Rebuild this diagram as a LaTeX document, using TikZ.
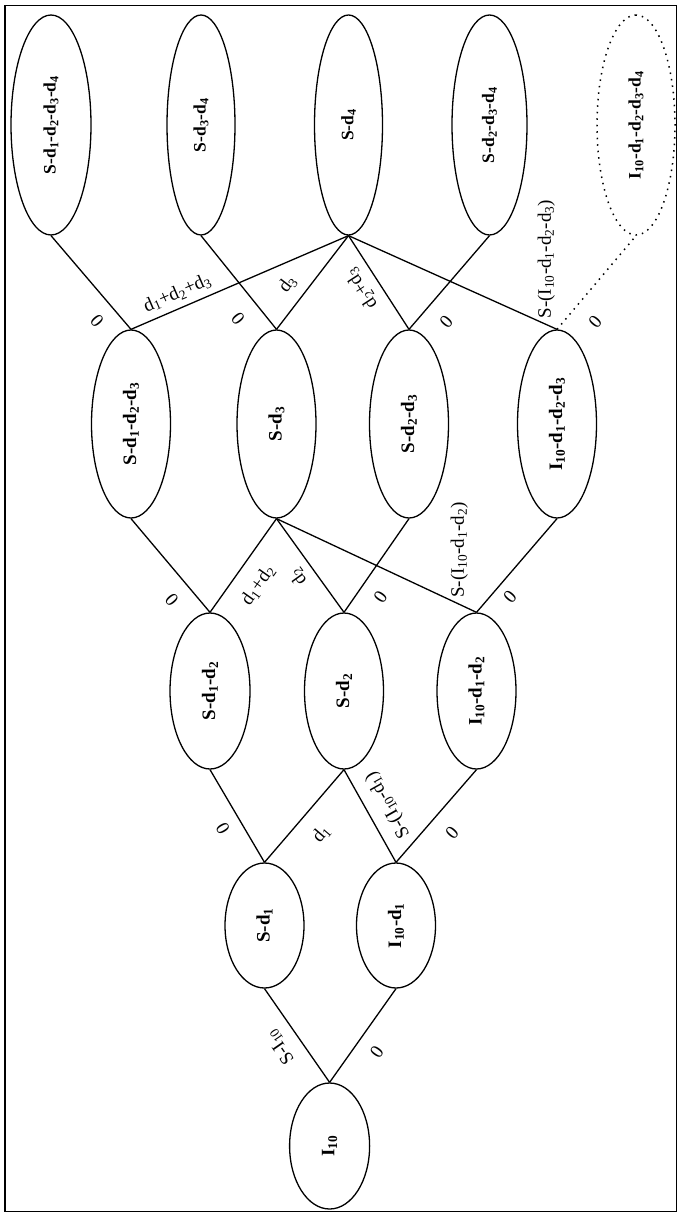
\documentclass[tikz,border=0pt]{standalone}
\usepackage{fontspec}
\setmainfont{Liberation Serif}
\usetikzlibrary{shapes.geometric}
\newcommand{\sbs}[1]{\textsubscript{#1}}

\begin{document}
\begin{tikzpicture}[x=1pt, y=-1pt,
  every node/.style = {font=\fontsize{19}{23}\selectfont},
  nd/.style         = {ellipse, draw, line width=1.3pt, rotate=90, inner sep=0pt,
                        minimum height=79pt, font=\fontsize{19}{23}\selectfont\bfseries},
  rowD/.style       = {nd, minimum width=220pt, font=\fontsize{17.5}{21}\selectfont\bfseries},
  rowC/.style       = {nd, minimum width=188pt},
  rowB/.style       = {nd, minimum width=156pt},
  rowA/.style       = {nd, minimum width=125pt},
  ln/.style         = {line width=1.3pt},
  dtd/.style        = {line width=1.5pt, dash pattern=on 1.5pt off 5pt},
  lbl/.style        = {sloped, allow upside down, inner sep=1pt},
  vlbl/.style       = {rotate=90, anchor=north west, inner sep=1pt},
]
\useasboundingbox (0,0) rectangle (678,1214);

% ── Frame ─────────────────────────────────────────────────────────────────────
\draw[line width=1.5pt] (5,5.5) rectangle (676.5,1211.5);

% ── ROOT ──────────────────────────────────────────────────────────────────────
\node[rowA, minimum width=126pt, minimum height=80pt] (i10) at (329.6,1146) {I\sbs{10}};

% ── STAGE 1 ───────────────────────────────────────────────────────────────────
\node[rowA] (sA) at (264.5,925.5) {S-d\sbs{1}};
\node[rowA] (iA) at (396,925.5)   {I\sbs{10}-d\sbs{1}};

% ── STAGE 2 ───────────────────────────────────────────────────────────────────
\node[rowB, minimum height=80pt] (sAB) at (210,691) {S-d\sbs{1}-d\sbs{2}};
\node[rowB] (sB)  at (344,691)   {S-d\sbs{2}};
\node[rowB] (iAB) at (476.5,691) {I\sbs{10}-d\sbs{1}-d\sbs{2}};

% ── STAGE 3 ───────────────────────────────────────────────────────────────────
\node[rowC] (sABC) at (131,424)   {S-d\sbs{1}-d\sbs{2}-d\sbs{3}};
\node[rowC] (sC)   at (276.5,424) {S-d\sbs{3}};
\node[rowC] (sBC)  at (409,424)   {S-d\sbs{2}-d\sbs{3}};
\node[rowC] (iABC) at (557,424)   {I\sbs{10}-d\sbs{1}-d\sbs{2}-d\sbs{3}};

% ── STAGE 4 ───────────────────────────────────────────────────────────────────
\node[rowD, minimum height=80pt] (sABCD) at (51,125)  {S-d\sbs{1}-d\sbs{2}-d\sbs{3}-d\sbs{4}};
\node[rowD, minimum height=68pt] (sCD)   at (201,125) {S-d\sbs{3}-d\sbs{4}};
\node[rowD, minimum height=68pt] (sD)    at (348.5,125) {S-d\sbs{4}};
\node[rowD, minimum height=75pt] (sBCD)  at (489.5,125) {S-d\sbs{2}-d\sbs{3}-d\sbs{4}};
\node[rowD, minimum height=78pt, dtd] (iABCD) at (636,125)
  {I\sbs{10}-d\sbs{1}-d\sbs{2}-d\sbs{3}-d\sbs{4}};

% ── ARCS stage 0 -> 1 ─────────────────────────────────────────────────────────
\draw[ln] (i10.east) -- node[lbl, pos=.50, above=11pt] {S-I\sbs{10}} (sA.west);
\draw[ln] (i10.east) -- node[lbl, pos=.45, below=13pt] {0} (iA.west);

% ── ARCS stage 1 -> 2 ─────────────────────────────────────────────────────────
\draw[ln] (sA.east) -- node[lbl, pos=.47, above=10.5pt] {0} (sAB.west);
\draw[ln] (sA.east) -- node[lbl, pos=.48, below=15pt] {d\sbs{1}} (sB.west);
\draw[ln] (iA.east) -- node[lbl, pos=.51, below=11pt] {S-(I\sbs{10}-d\sbs{1})} (sB.west);
\draw[ln] (iA.east) -- node[lbl, pos=.48, below=15pt] {0} (iAB.west);

% ── ARCS stage 2 -> 3 ─────────────────────────────────────────────────────────
\draw[ln] (sAB.east) -- node[lbl, pos=.28, above=13pt] {0} (sABC.west);
\draw[ln] (sAB.east) -- node[lbl, pos=.435, below=14pt] {d\sbs{1}+d\sbs{2}} (sC.west);
\draw[ln] (sB.east)  -- node[lbl, pos=.48, above=7pt] {d\sbs{2}} (sC.west);
\draw[ln] (sB.east)  -- node[lbl, pos=.29, below=13.5pt] {0} (sBC.west);
\draw[ln] (iAB.east) -- node[vlbl, pos=.137] {S-(I\sbs{10}-d\sbs{1}-d\sbs{2})} (sC.west);
\draw[ln] (iAB.east) -- node[lbl, pos=.27, below=7.5pt] {0} (iABC.west);

% ── ARCS stage 3 -> 4 ─────────────────────────────────────────────────────────
\draw[ln] (sABC.east) -- node[lbl, pos=.23, above=12.5pt] {0} (sABCD.west);
\draw[ln] (sABC.east) -- node[lbl, pos=.24, above=5pt] {d\sbs{1}+d\sbs{2}+d\sbs{3}} (sD.west);
\draw[ln] (sC.east)   -- node[lbl, pos=.27, above=15pt] {0} (sCD.west);
\draw[ln] (sC.east)   -- node[lbl, pos=.36, above=9pt] {d\sbs{3}} (sD.west);
\draw[ln] (sBC.east)  -- node[lbl, pos=.54, above=8pt] {d\sbs{2}+d\sbs{3}} (sD.west);
\draw[ln] (sBC.east)  -- node[lbl, pos=.24, below=15.5pt] {0} (sBCD.west);
\draw[ln] (iABC.east) -- node[vlbl, pos=.1] {S-(I\sbs{10}-d\sbs{1}-d\sbs{2}-d\sbs{3})} (sD.west);
\draw[dtd] (iABC.east) -- node[lbl, pos=.25, below=16pt] {0} (iABCD.west);

\end{tikzpicture}
\end{document}
